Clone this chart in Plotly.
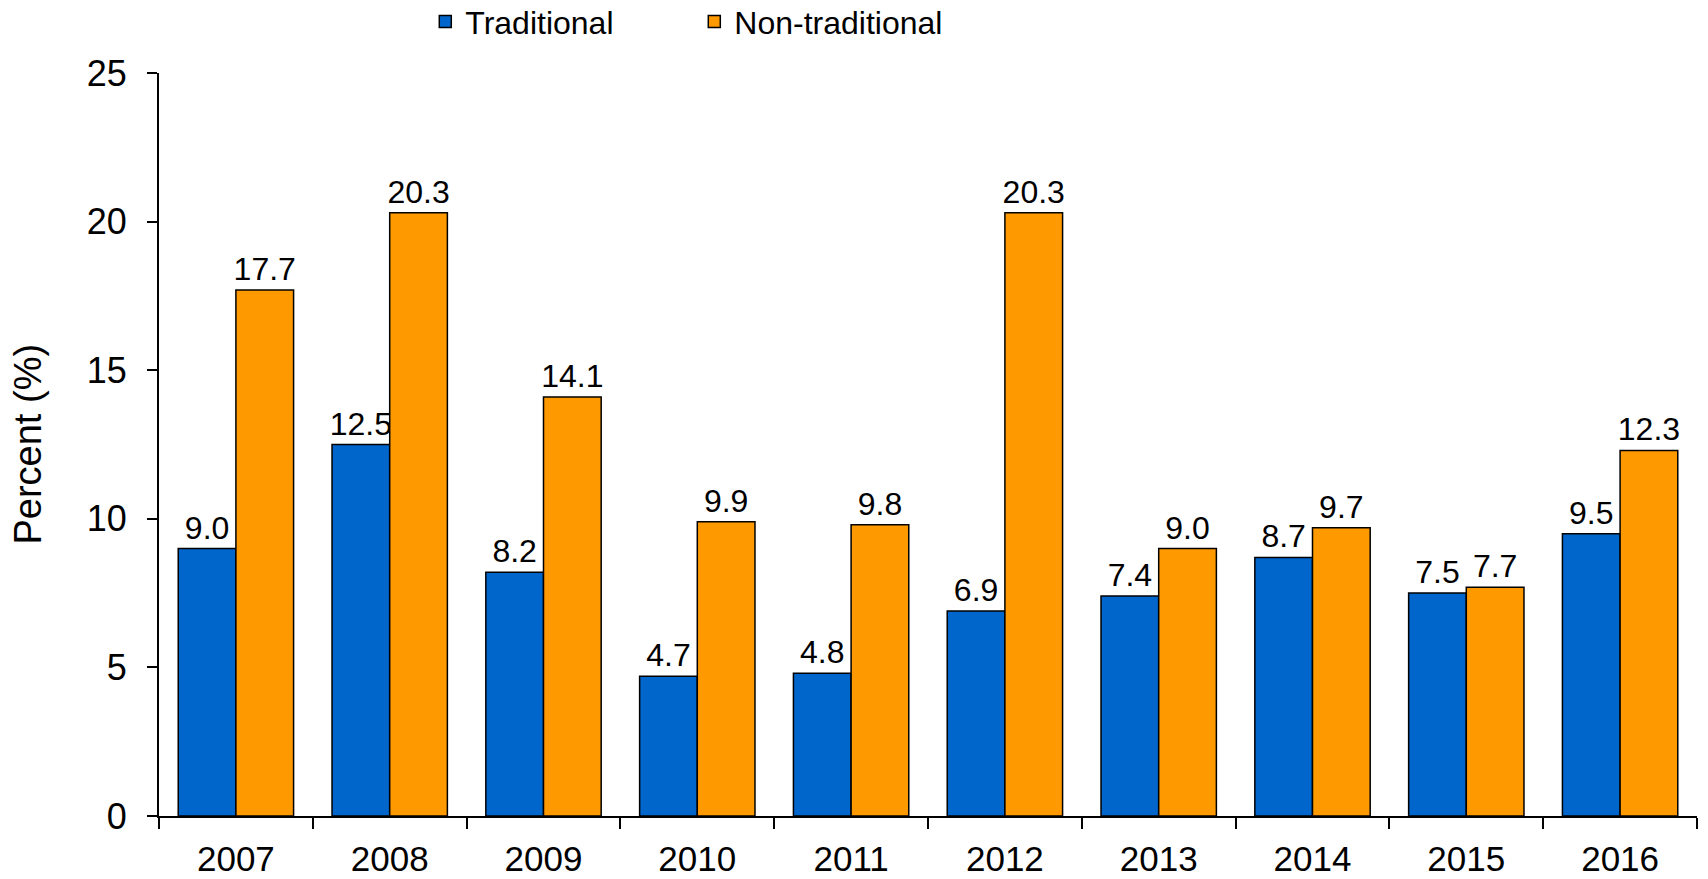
import plotly.graph_objects as go

years = ["2007", "2008", "2009", "2010", "2011", "2012", "2013", "2014", "2015", "2016"]
traditional = [9.0, 12.5, 8.2, 4.7, 4.8, 6.9, 7.4, 8.7, 7.5, 9.5]
non_traditional = [17.7, 20.3, 14.1, 9.9, 9.8, 20.3, 9.0, 9.7, 7.7, 12.3]
y_ticks = [0, 5, 10, 15, 20, 25]
y_title = "Percent (%)"

FONT = "Liberation Sans, Arial, sans-serif"
series = [("Traditional", traditional, "#0066CC"), ("Non-traditional", non_traditional, "#FF9900")]

fig = go.Figure()
for name, vals, color in series:
    fig.add_trace(go.Bar(
        name=name, x=years, y=vals,
        marker=dict(color=color, line=dict(color="#000000", width=1.5)),
        texttemplate="%{y:.1f}", textposition="outside", constraintext="none",
        textfont=dict(size=32, color="#000000", family=FONT),
        cliponaxis=False,
    ))

fig.update_layout(
    width=1708, height=879,
    margin=dict(l=159, r=11, t=73, b=63, autoexpand=False),
    paper_bgcolor="white", plot_bgcolor="white",
    font=dict(family=FONT, color="#000000"),
    barmode="group", bargap=0.25, bargroupgap=0,
    showlegend=True,
    legend=dict(
        orientation="h", xref="container", yref="paper",
        x=0.249, xanchor="left", y=1.106, yanchor="top",
        font=dict(size=32, family=FONT),
        entrywidth=224, entrywidthmode="pixels",
        itemclick=False, bgcolor="rgba(0,0,0,0)",
    ),
    annotations=[dict(
        text=y_title, textangle=-90, showarrow=False,
        xref="paper", yref="paper", x=-0.0858, y=0.5,
        xanchor="center", yanchor="middle",
        font=dict(size=38, family=FONT, color="#000000"),
    )],
)
fig.update_xaxes(
    type="category", showline=True, linecolor="#000000", linewidth=2,
    ticks="outside", tickson="boundaries", ticklen=11, tickwidth=2, tickcolor="#000000",
    tickfont=dict(size=35, family=FONT), ticklabelstandoff=11,
    showgrid=False, zeroline=False, automargin=False,
)
fig.update_yaxes(
    range=[0, 25], tickvals=y_ticks, showline=True, linecolor="#000000", linewidth=2,
    ticks="outside", ticklen=10, tickwidth=2, tickcolor="#000000",
    tickfont=dict(size=36, family=FONT), ticklabelstandoff=13,
    showgrid=False, zeroline=False, automargin=False,
)

fig.write_html(
    "out.html",
    config={"displayModeBar": False},
    post_script="document.body.style.margin='0';document.body.style.overflow='hidden';",
)
